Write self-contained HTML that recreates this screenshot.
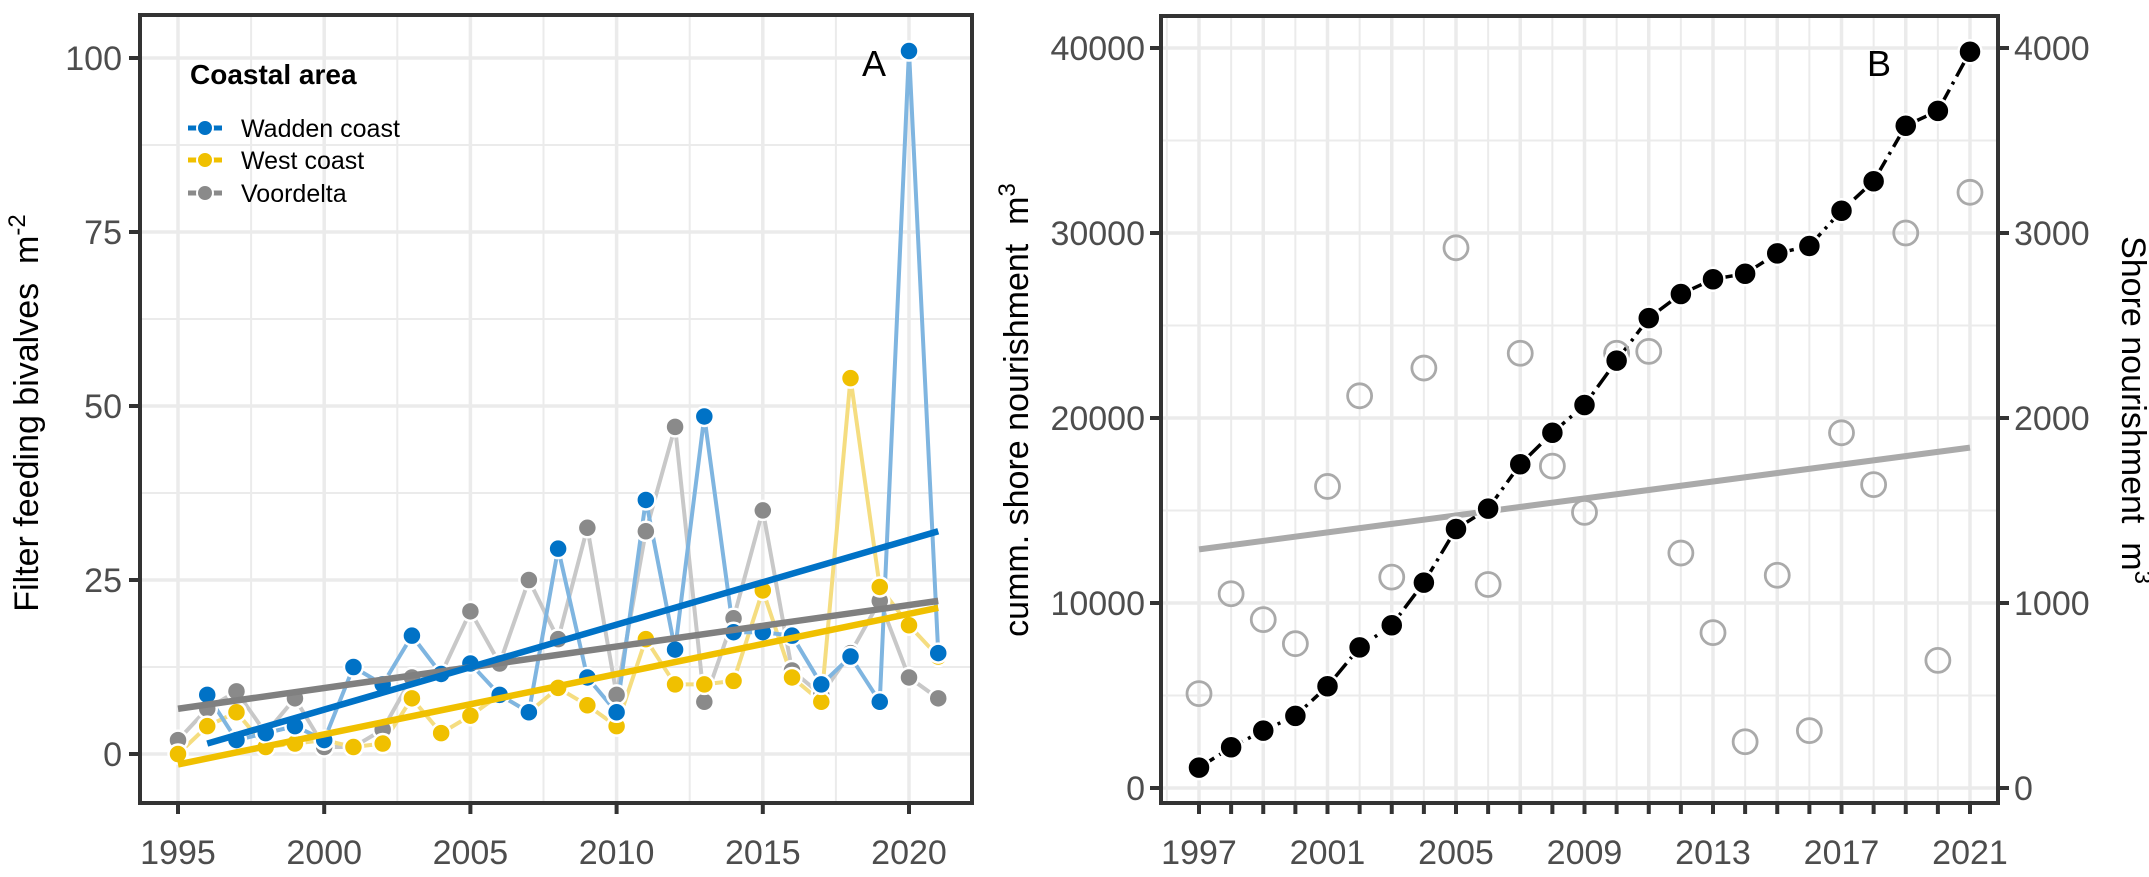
<!DOCTYPE html>
<html><head><meta charset="utf-8">
<style>
html,body{margin:0;padding:0;background:#fff;}
svg{display:block;font-family:"Liberation Sans",Arial,sans-serif;}
</style></head>
<body>
<svg id="chart" width="2149" height="877" viewBox="0 0 2149 877" xmlns="http://www.w3.org/2000/svg"></svg>
<script>
// ---- Panel A data ----
const yearsA = [1995,1996,1997,1998,1999,2000,2001,2002,2003,2004,2005,2006,2007,2008,2009,2010,2011,2012,2013,2014,2015,2016,2017,2018,2019,2020,2021];
const wadden = [null,8.5,2,3,4,2,12.5,10,17,11.5,13,8.5,6,29.5,11,6,36.5,15,48.5,17.5,17.5,17,10,14,7.5,101,14.5];
const west = [0,4,6,1,1.5,2,1,1.5,8,3,5.5,8.5,6,9.5,7,4,16.5,10,10,10.5,23.5,11,7.5,54,24,18.5,14];
const voordelta = [2,6.5,9,3,8,1,1,3.5,11,11.5,20.5,13,25,16.5,32.5,8.5,32,47,7.5,19.5,35,12,8.5,14.5,22,11,8];
const trendWadden = [[1996,1.5],[2021,32]];
const trendWest = [[1995,-1.5],[2021,21]];
const trendVoordelta = [[1995,6.5],[2021,22]];
const ticksAy = [0,25,50,75,100];
const ticksAx = [1995,2000,2005,2010,2015,2020];
// ---- Panel B data ----
const yearsB = [1997,1998,1999,2000,2001,2002,2003,2004,2005,2006,2007,2008,2009,2010,2011,2012,2013,2014,2015,2016,2017,2018,2019,2020,2021];
const cumulative = [1100,2200,3100,3900,5500,7600,8800,11100,14000,15100,17500,19200,20700,23100,25400,26700,27500,27800,28900,29300,31200,32800,35800,36600,39800];
const annual = [510,1050,910,780,1630,2120,1140,2270,2920,1100,2350,1740,1490,2350,2360,1270,840,250,1150,310,1920,1640,3000,690,3220];
const trendAnnual = [[1997,1290],[2021,1840]];
const ticksBy = [0,10000,20000,30000,40000];
const ticksBy2 = [0,1000,2000,3000,4000];
const ticksBx = [1997,2001,2005,2009,2013,2017,2021];

const NS="http://www.w3.org/2000/svg";
const svg=document.getElementById('chart');
function el(tag,attrs,parent,text){const e=document.createElementNS(NS,tag);for(const k in attrs)e.setAttribute(k,attrs[k]);if(text!==undefined)e.textContent=text;(parent||svg).appendChild(e);return e;}

// ---- scales A ----
const xA=y=>178+(y-1995)*(909-178)/25;
const yA=v=>754-v*6.96;
const A={l:140,r:972,t:15,b:803};
const gA=el('g',{});


for(let v=-12.5;v<=106;v+=12.5){const y=yA(v);if(y<A.t||y>A.b)continue;const ln=el('line',{x1:A.l,x2:A.r,y1:y,y2:y,stroke:'#ebebeb','stroke-width':(v%25===0)?3.5:2},gA);}
for(let yr=1992.5;yr<=2022.5;yr+=2.5){const x=xA(yr);if(x<A.l||x>A.r)continue;const ln=el('line',{x1:x,x2:x,y1:A.t,y2:A.b,stroke:'#ebebeb','stroke-width':(yr%5===0)?3.5:2},gA);}
function seriesLine(vals,col,name){let pts=[];vals.forEach((v,i)=>{if(v!==null)pts.push(xA(yearsA[i])+','+yA(v));});const p=el('polyline',{points:pts.join(' '),fill:'none',stroke:col,'stroke-width':4,'stroke-linejoin':'miter'},gA);}
seriesLine(voordelta,'#c8c8c8','voordelta-line');
seriesLine(west,'#f5dd80','west-coast-line');
seriesLine(wadden,'#7fb5e0','wadden-coast-line');
function trend(t,col,name){const l=el('line',{x1:xA(t[0][0]),y1:yA(t[0][1]),x2:xA(t[1][0]),y2:yA(t[1][1]),stroke:col,'stroke-width':6.5},gA);}
function pts(vals,col,name){vals.forEach((v,i)=>{if(v===null)return;const c=el('circle',{cx:xA(yearsA[i]),cy:yA(v),r:9.5,fill:col,stroke:'#fff','stroke-width':2.5},gA);});}
pts(voordelta,'#8a8a8a','voordelta-point');
pts(west,'#f0c000','west-coast-point');
pts(wadden,'#0072c6','wadden-coast-point');
trend(trendVoordelta,'#808080','voordelta-trend');
trend(trendWest,'#f0c000','west-coast-trend');
trend(trendWadden,'#0072c6','wadden-coast-trend');
let fr=el('rect',{x:A.l,y:A.t,width:A.r-A.l,height:A.b-A.t,fill:'none',stroke:'#333','stroke-width':4},gA);

ticksAy.forEach(v=>{const y=yA(v);el('line',{x1:A.l-11,x2:A.l,y1:y,y2:y,stroke:'#333','stroke-width':4},gA);const t=el('text',{x:A.l-18,y:y+12,'text-anchor':'end','font-size':34,fill:'#4d4d4d'},gA,String(v));});
ticksAx.forEach(v=>{const x=xA(v);el('line',{x1:x,x2:x,y1:A.b,y2:A.b+11,stroke:'#333','stroke-width':4},gA);const t=el('text',{x:x,y:864,'text-anchor':'middle','font-size':34,fill:'#4d4d4d'},gA,String(v));});
let yt=el('text',{x:0,y:0,transform:'translate(38,413) rotate(-90)','text-anchor':'middle','font-size':34,fill:'#000'},gA);

yt.innerHTML='Filter feeding bivalves&#160; m<tspan dy="-13" font-size="24">-2</tspan>';
let la=el('text',{x:862,y:76,'font-size':36,fill:'#000'},gA,'A');
const lg=el('g',{},gA);
let lt=el('text',{x:190,y:84,'font-size':28,'font-weight':'bold',fill:'#000'},lg,'Coastal area');
const legItems=[['Wadden coast','#0072c6',128],['West coast','#f0c000',160],['Voordelta','#8a8a8a',193]];
legItems.forEach(it=>{const g=el('g',{},lg);el('line',{x1:188,x2:222,y1:it[2],y2:it[2],stroke:it[1],'stroke-width':5},g);el('circle',{cx:205,cy:it[2],r:8,fill:it[1],stroke:'#fff','stroke-width':2},g);el('text',{x:241,y:it[2]+9,'font-size':25,fill:'#000'},g,it[0]);});

// ---- Panel B ----
const xB=y=>1199+(y-1997)*(1970-1199)/24;
const yB=v=>788-v*0.0185;
const yB2=v=>yB(v*10);
const B={l:1161,r:1998,t:16,b:803};
const gB=el('g',{});

for(let v=0;v<=40000;v+=5000){const y=yB(v);const ln=el('line',{x1:B.l,x2:B.r,y1:y,y2:y,stroke:'#ebebeb','stroke-width':(v%10000===0)?3.5:2},gB);}
for(let yr=1996;yr<=2022;yr++){const x=xB(yr);if(x<B.l||x>B.r)continue;const ln=el('line',{x1:x,x2:x,y1:B.t,y2:B.b,stroke:'#ebebeb','stroke-width':(yr%2===1)?3.5:2},gB);}
let cl=el('polyline',{points:cumulative.map((v,i)=>xB(yearsB[i])+','+yB(v)).join(' '),fill:'none',stroke:'#000','stroke-width':3.5,'stroke-dasharray':'18 6 3 6'},gB);

let tl=el('line',{x1:xB(trendAnnual[0][0]),y1:yB2(trendAnnual[0][1]),x2:xB(trendAnnual[1][0]),y2:yB2(trendAnnual[1][1]),stroke:'#aaaaaa','stroke-width':6},gB);

annual.forEach((v,i)=>{const c=el('circle',{cx:xB(yearsB[i]),cy:yB2(v),r:12,fill:'none',stroke:'#aaaaaa','stroke-width':2.8},gB);});
cumulative.forEach((v,i)=>{const c=el('circle',{cx:xB(yearsB[i]),cy:yB(v),r:11.5,fill:'#000',stroke:'#fff','stroke-width':2.5},gB);});
let fb=el('rect',{x:B.l,y:B.t,width:B.r-B.l,height:B.b-B.t,fill:'none',stroke:'#333','stroke-width':4},gB);

ticksBy.forEach(v=>{const y=yB(v);el('line',{x1:B.l-11,x2:B.l,y1:y,y2:y,stroke:'#333','stroke-width':4},gB);const t=el('text',{x:B.l-16,y:y+12,'text-anchor':'end','font-size':34,fill:'#4d4d4d'},gB,String(v));});
ticksBy2.forEach(v=>{const y=yB2(v);el('line',{x1:B.r,x2:B.r+11,y1:y,y2:y,stroke:'#333','stroke-width':4},gB);const t=el('text',{x:B.r+16,y:y+12,'text-anchor':'start','font-size':34,fill:'#4d4d4d'},gB,String(v));});
for(let yr=1997;yr<=2021;yr++){el('line',{x1:xB(yr),x2:xB(yr),y1:B.b,y2:B.b+11,stroke:'#333','stroke-width':4},gB);}
ticksBx.forEach(v=>{const t=el('text',{x:xB(v),y:864,'text-anchor':'middle','font-size':34,fill:'#4d4d4d'},gB,String(v));});
let lb=el('text',{x:0,y:0,transform:'translate(1028,410) rotate(-90)','text-anchor':'middle','font-size':34,fill:'#000'},gB);

lb.innerHTML='cumm. shore nourishment&#160; m<tspan dy="-13" font-size="24">3</tspan>';
let rb=el('text',{x:0,y:0,transform:'translate(2122,410) rotate(90)','text-anchor':'middle','font-size':34,fill:'#000'},gB);

rb.innerHTML='Shore nourishment&#160; m<tspan dy="-13" font-size="24">3</tspan>';
let lbB=el('text',{x:1867,y:76,'font-size':36,fill:'#000'},gB,'B');
</script>
</body></html>
